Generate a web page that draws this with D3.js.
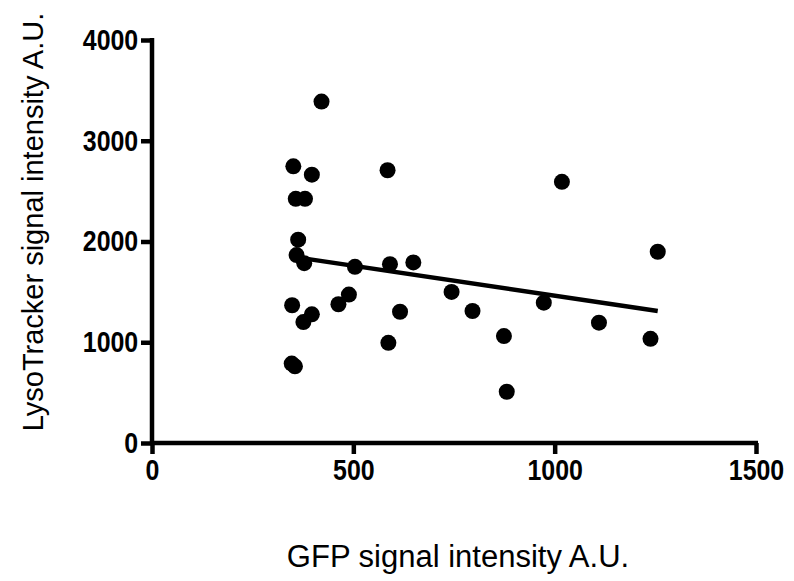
<!DOCTYPE html>
<html><head><meta charset="utf-8">
<script src="https://cdn.jsdelivr.net/npm/d3@7"></script>
<style>body{margin:0;background:#fff}svg{display:block}</style>
</head><body>
<script>
const gfp = [421,351,397,585,357,380,1018,363,359,378,504,591,649,744,973,348,489,463,397,376,616,796,587,874,347,355,881,1256,1110,1238];
const lyso = [3389,2746,2663,2707,2424,2424,2592,2018,1865,1785,1749,1775,1792,1500,1393,1367,1473,1377,1277,1200,1303,1310,994,1061,788,761,509,1898,1194,1034];
const fitX = [347,1256];
const fitY = [1850,1310];
const xTicks = [0,500,1000,1500];
const yTicks = [0,1000,2000,3000,4000];
const xTitle = "GFP signal intensity A.U.";
const yTitle = "LysoTracker signal intensity A.U.";

const W=794,H=581;
const svg=d3.select("body").append("svg").attr("width",W).attr("height",H);
const x=d3.scaleLinear().domain([0,1500]).range([152,756]);
const y=d3.scaleLinear().domain([0,4000]).range([443,40]);

const font="'Liberation Sans', Arial, sans-serif";
const xa=svg.append("g").attr("transform","translate(0,443)")
  .call(d3.axisBottom(x).tickValues(xTicks).tickSize(11).tickPadding(5).tickFormat(d3.format("d")));
const ya=svg.append("g").attr("transform","translate(152,0)")
  .call(d3.axisLeft(y).tickValues(yTicks).tickSize(11).tickPadding(3).tickFormat(d3.format("d")));
[xa,ya].forEach(a=>{
  a.select(".domain").attr("stroke","#000").attr("stroke-width",4.5);
  a.selectAll(".tick line").attr("stroke","#000").attr("stroke-width",4.5);
  a.selectAll(".tick text").attr("fill","#000").style("font-family",font).style("font-weight","bold").style("font-size","29px");
});
xa.selectAll(".tick text").attr("transform","scale(0.86,1)");
ya.selectAll(".tick text").attr("x",-16).attr("transform","scale(0.86,1)");
xa.select(".domain").attr("d","M"+(x(0)-2)+",0H"+(x(1500)+2));
ya.select(".domain").attr("d","M0,"+(y(0)+2)+"V"+(y(4000)-2));

svg.append("line")
  .attr("x1",x(fitX[0])).attr("y1",y(fitY[0]))
  .attr("x2",x(fitX[1])).attr("y2",y(fitY[1]))
  .attr("stroke","#000").attr("stroke-width",4.5);

svg.append("g").selectAll("circle").data(gfp.map((v,i)=>[v,lyso[i]])).join("circle")
  .attr("cx",d=>x(d[0])).attr("cy",d=>y(d[1])).attr("r",8).attr("fill","#000");

svg.append("text").attr("x",458).attr("y",567).attr("text-anchor","middle")
  .style("font-family",font).style("font-size","31px").attr("fill","#000").text(xTitle);
svg.append("text").attr("transform","translate(43,222) rotate(-90)").attr("text-anchor","middle")
  .style("font-family",font).style("font-size","29px").attr("fill","#000").text(yTitle);
</script>
</body></html>
